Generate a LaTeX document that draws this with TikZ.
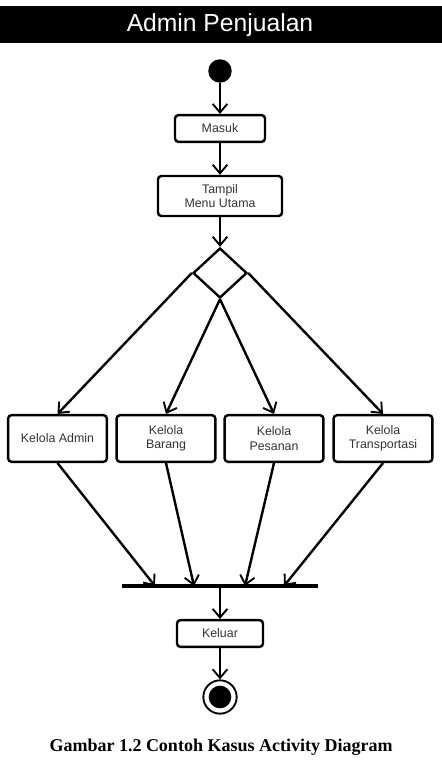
\documentclass[tikz,border=0pt]{standalone}
\usepackage{fontspec}
\setmainfont{Liberation Serif}
\setsansfont{Liberation Sans}
\usetikzlibrary{arrows.meta,positioning,shapes.geometric}

\tikzset{
  act/.style={draw, line width=1.8pt, rounded corners=2.5pt, align=center, inner sep=0pt,
    text=black!80, font=\sffamily\fontsize{9.3}{10.8}\selectfont},
  flow/.style={line width=1.8pt, ->},
}

\begin{document}
\begin{tikzpicture}[x=0.75pt, y=-0.75pt, >={Straight Barb[length=6.5pt,width=11pt,line width=1.4pt]}]
    \useasboundingbox (0,0) rectangle (442,781);
    % title bar
    \fill[black] (0,6) rectangle (442,43);
    \node[text=white, font=\sffamily\fontsize{18.5}{20}\selectfont] (title) at (220,25) {Admin Penjualan};
    % start and actions
    \fill[black] (220,71) circle (8.8pt);
    \node[circle, inner sep=0pt, minimum size=17.6pt] (start) at (220,71) {};
    \node[act, minimum width=67.5pt, minimum height=20pt] (masuk) at (220,128.5) {Masuk};
    \node[act, minimum width=93pt, minimum height=30pt] (menu) at (220,196) {Tampil\\Menu Utama};
    \node[draw, diamond, line width=1.8pt, inner sep=0pt, minimum width=40.5pt, minimum height=37.5pt] (pilih) at (220,273) {};
    \node[act, minimum width=74pt, minimum height=35pt] (admin) at (57.5,438.5) {Kelola Admin};
    \node[act, minimum width=74pt, minimum height=35pt] (barang) at (166,438.5) {Kelola\\Barang};
    \node[act, minimum width=74pt, minimum height=35pt] (pesanan) at (274,438.5) {Kelola\\Pesanan};
    \node[act, minimum width=74pt, minimum height=35pt] (transport) at (383,438.5) {Kelola\\Transportasi};
    % join bar
    \draw[line width=3.2pt] (122,586) coordinate (barL) -- (318,586) coordinate (barR);
    \coordinate (j1) at (155,586);
    \coordinate (j2) at (194,586);
    \coordinate (j3) at (245,586);
    \coordinate (j4) at (284,586);
    \coordinate (jm) at (220,586);
    \node[act, minimum width=64.5pt, minimum height=20pt] (keluar) at (220,633.5) {Keluar};
    \node[circle, draw, line width=1.4pt, minimum size=25pt, inner sep=0pt] (akhir) at (220,697) {};
    \fill[black] (akhir) circle (8.5pt);
    % connectors
    \draw[flow] (start) -- (masuk);
    \draw[flow] (masuk) -- (menu);
    \draw[line width=0.8pt, ->] (menu) -- (pilih.north);
    \draw[flow] (pilih.west) -- (admin.north);
    \draw[flow] (pilih.south) -- (barang.north);
    \draw[flow] (pilih.south) -- (pesanan.north);
    \draw[flow] (pilih.east) -- (transport.north);
    \draw[flow] (admin.south) -- (j1);
    \draw[flow] (barang.south) -- (j2);
    \draw[flow] (pesanan.south) -- (j3);
    \draw[flow] (transport.south) -- (j4);
    \draw[flow] (jm) -- (keluar);
    \draw[flow] (keluar) -- (akhir);
    % caption
    \node[font=\bfseries\fontsize{13.5}{16}\selectfont] (caption) at (221,747) {Gambar 1.2 Contoh Kasus Activity Diagram};
\end{tikzpicture}
\end{document}
